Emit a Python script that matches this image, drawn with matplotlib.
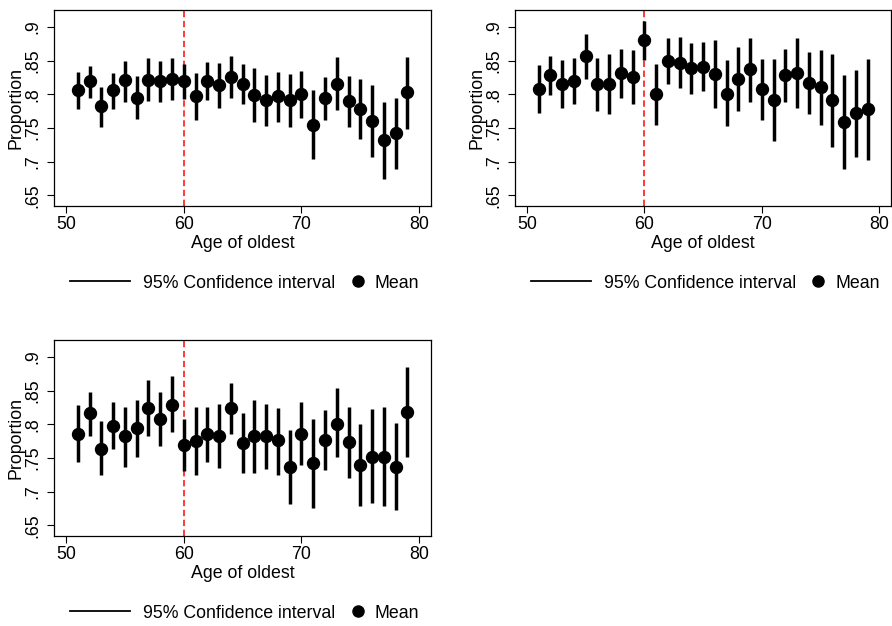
import numpy as np
import matplotlib.pyplot as plt
from matplotlib.lines import Line2D

plt.rcParams['font.family'] = ['Liberation Sans', 'DejaVu Sans']

# Ages on the x axis
age = np.arange(51, 80)

# Panel 1 (top left)
mean1 = [0.806, 0.819, 0.782, 0.806, 0.821, 0.795, 0.821, 0.819, 0.822, 0.819,
         0.797, 0.820, 0.814, 0.826, 0.8155, 0.799, 0.791, 0.797, 0.792, 0.800,
         0.754, 0.794, 0.815, 0.790, 0.778, 0.760, 0.732, 0.742, 0.803]
hi1 = [0.833, 0.842, 0.811, 0.832, 0.850, 0.827, 0.853, 0.850, 0.854, 0.845,
       0.832, 0.848, 0.847, 0.856, 0.845, 0.839, 0.829, 0.833, 0.830, 0.835,
       0.806, 0.826, 0.855, 0.827, 0.823, 0.813, 0.789, 0.795, 0.855]
lo1 = [0.778, 0.795, 0.751, 0.778, 0.789, 0.763, 0.790, 0.788, 0.791, 0.793,
       0.761, 0.791, 0.780, 0.795, 0.785, 0.758, 0.753, 0.759, 0.752, 0.765,
       0.704, 0.761, 0.776, 0.752, 0.734, 0.707, 0.674, 0.689, 0.749]

# Panel 2 (top right)
mean2 = [0.807, 0.829, 0.815, 0.820, 0.857, 0.815, 0.815, 0.831, 0.826, 0.880,
         0.800, 0.849, 0.846, 0.839, 0.841, 0.830, 0.801, 0.823, 0.837, 0.807,
         0.792, 0.829, 0.832, 0.816, 0.811, 0.791, 0.758, 0.772, 0.778]
hi2 = [0.843, 0.857, 0.851, 0.854, 0.890, 0.854, 0.859, 0.867, 0.866, 0.909,
       0.845, 0.884, 0.885, 0.876, 0.878, 0.881, 0.851, 0.870, 0.884, 0.852,
       0.852, 0.867, 0.884, 0.863, 0.866, 0.859, 0.828, 0.836, 0.852]
lo2 = [0.772, 0.799, 0.779, 0.785, 0.823, 0.775, 0.771, 0.794, 0.786, 0.851,
       0.755, 0.815, 0.809, 0.801, 0.804, 0.780, 0.753, 0.775, 0.789, 0.761,
       0.731, 0.789, 0.780, 0.770, 0.755, 0.722, 0.689, 0.707, 0.703]

# Panel 3 (bottom left)
mean3 = [0.786, 0.817, 0.763, 0.798, 0.782, 0.794, 0.824, 0.808, 0.829, 0.769,
         0.775, 0.785, 0.783, 0.824, 0.772, 0.782, 0.782, 0.776, 0.736, 0.786,
         0.742, 0.777, 0.801, 0.773, 0.740, 0.752, 0.752, 0.736, 0.818]
hi3 = [0.828, 0.848, 0.804, 0.833, 0.826, 0.836, 0.866, 0.848, 0.871, 0.808,
       0.826, 0.826, 0.830, 0.861, 0.817, 0.836, 0.830, 0.824, 0.791, 0.833,
       0.808, 0.821, 0.853, 0.826, 0.800, 0.823, 0.826, 0.802, 0.885]
lo3 = [0.744, 0.783, 0.724, 0.763, 0.737, 0.751, 0.782, 0.767, 0.789, 0.730,
       0.724, 0.744, 0.735, 0.785, 0.727, 0.727, 0.733, 0.725, 0.682, 0.740,
       0.676, 0.732, 0.751, 0.720, 0.679, 0.683, 0.679, 0.672, 0.751]

panels = [(mean1, lo1, hi1), (mean2, lo2, hi2), (mean3, lo3, hi3)]

yticks = [0.65, 0.7, 0.75, 0.8, 0.85, 0.9]
yticklabels = ['.65', '.7', '.75', '.8', '.85', '.9']
xticks = [50, 60, 70, 80]

W, H = 892, 626
fig = plt.figure(figsize=(W / 100, H / 100), dpi=100)

# axes boxes in pixels: left, top, right, bottom
boxes = [(54, 10, 431, 206), (515, 10, 891, 206), (54, 340, 431, 536)]

fs = 12.8
for (m, lo, hi), (l, t, r, b) in zip(panels, boxes):
    ax = fig.add_axes([l / W, 1 - b / H, (r - l) / W, (b - t) / H])
    ax.axvline(60, color='#ff2a2a', lw=1.3, dashes=(3.5, 2.0), zorder=1)
    ax.vlines(age, lo, hi, color='black', lw=2.5, zorder=2)
    ax.plot(age, m, 'o', color='black', ms=8.6, zorder=3)
    ax.set_xlim(48.98, 81.0)
    ax.set_ylim(0.634, 0.925)
    ax.set_xticks(xticks)
    ax.set_yticks(yticks)
    ax.set_yticklabels(yticklabels, rotation=90, va='center')
    ax.tick_params(axis='both', labelsize=fs, length=5, width=0.8, direction='out')
    ax.tick_params(axis='x', pad=2.5)
    ax.tick_params(axis='y', pad=4)
    for s in ax.spines.values():
        s.set_linewidth(0.9)
    ax.set_xlabel('Age of oldest', fontsize=fs, labelpad=1)
    ax.set_ylabel('Proportion', fontsize=fs)
    ax.yaxis.set_label_coords(-0.078, 0.5)

    h_ci = Line2D([], [], color='black', lw=1.3)
    h_mean = Line2D([], [], color='black', marker='o', ls='none', ms=8)
    leg1 = ax.legend([h_ci], ['95% Confidence interval'], loc='center left',
                     bbox_to_anchor=(0.042, -0.393), frameon=False, fontsize=fs,
                     handlelength=3.37, handletextpad=0.73, borderpad=0, borderaxespad=0)
    ax.add_artist(leg1)
    ax.legend([h_mean], ['Mean'], loc='center left',
              bbox_to_anchor=(0.785, -0.393), frameon=False, fontsize=fs,
              handlelength=0.9, handletextpad=0.5, borderpad=0, borderaxespad=0)

fig.savefig('out.png', dpi=100)
